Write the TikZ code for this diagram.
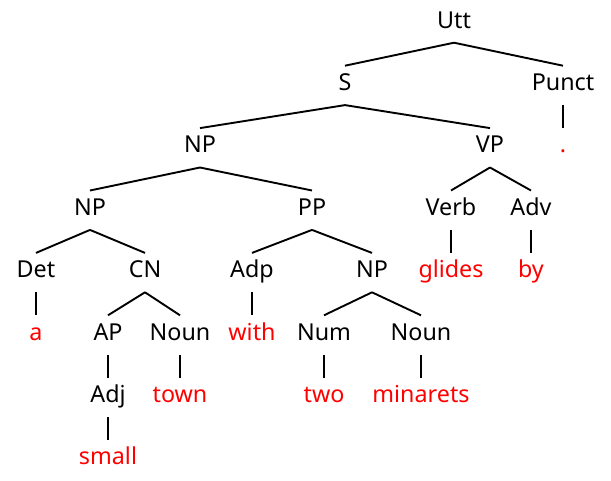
\documentclass[tikz,border=0pt]{standalone}
\usepackage{fontspec}
\setmainfont{Noto Sans}
\begin{document}
\begin{tikzpicture}[x=1pt,y=-1pt,
  lbl/.style={inner sep=0pt, text height=24.5pt, text depth=14.5pt, anchor=base,
    font=\fontsize{23.3}{28}\selectfont},
  word/.style={lbl, text=red},
  edge/.style={line width=1.9pt, black}]
\useasboundingbox (0,0) rectangle (611,480);
\def\La{28}\def\Lb{90.4}\def\Lc{152.8}\def\Ld{215.2}\def\Le{277.6}\def\Lf{340}\def\Lg{402.4}\def\Lh{464.8}
\node[lbl] (utt) at (454,\La) {Utt};
\node[lbl] (s) at (345,\Lb) {S};
\node[lbl] (punct) at (563,\Lb) {Punct};
\node[lbl] (np1) at (200,\Lc) {NP};
\node[lbl] (vp) at (490,\Lc) {VP};
\node[word] (dot) at (563,\Lc) {.};
\node[lbl] (np2) at (90,\Ld) {NP};
\node[lbl] (pp) at (312,\Ld) {PP};
\node[lbl] (verb) at (451,\Ld) {Verb};
\node[lbl] (adv) at (531,\Ld) {Adv};
\node[lbl] (det) at (36,\Le) {Det};
\node[lbl] (cn) at (145,\Le) {CN};
\node[lbl] (adp) at (252,\Le) {Adp};
\node[lbl] (np3) at (372,\Le) {NP};
\node[word] (glides) at (451,\Le) {glides};
\node[word] (by) at (531,\Le) {by};
\node[word] (a) at (36,\Lf) {a};
\node[lbl] (ap) at (108,\Lf) {AP};
\node[lbl] (noun1) at (180,\Lf) {Noun};
\node[word] (with) at (252,\Lf) {with};
\node[lbl] (num) at (324,\Lf) {Num};
\node[lbl] (noun2) at (421,\Lf) {Noun};
\node[lbl] (adj) at (108,\Lg) {Adj};
\node[word] (town) at (180,\Lg) {town};
\node[word] (two) at (324,\Lg) {two};
\node[word] (minarets) at (421,\Lg) {minarets};
\node[word] (small) at (108,\Lh) {small};
\foreach \p/\c in {utt/s,utt/punct,s/np1,s/vp,punct/dot,np1/np2,np1/pp,vp/verb,vp/adv,
  np2/det,np2/cn,pp/adp,pp/np3,verb/glides,adv/by,det/a,cn/ap,cn/noun1,adp/with,
  np3/num,np3/noun2,ap/adj,noun1/town,num/two,noun2/minarets,adj/small}
  \draw[edge] (\p.south) -- (\c.north);
\end{tikzpicture}
\end{document}
